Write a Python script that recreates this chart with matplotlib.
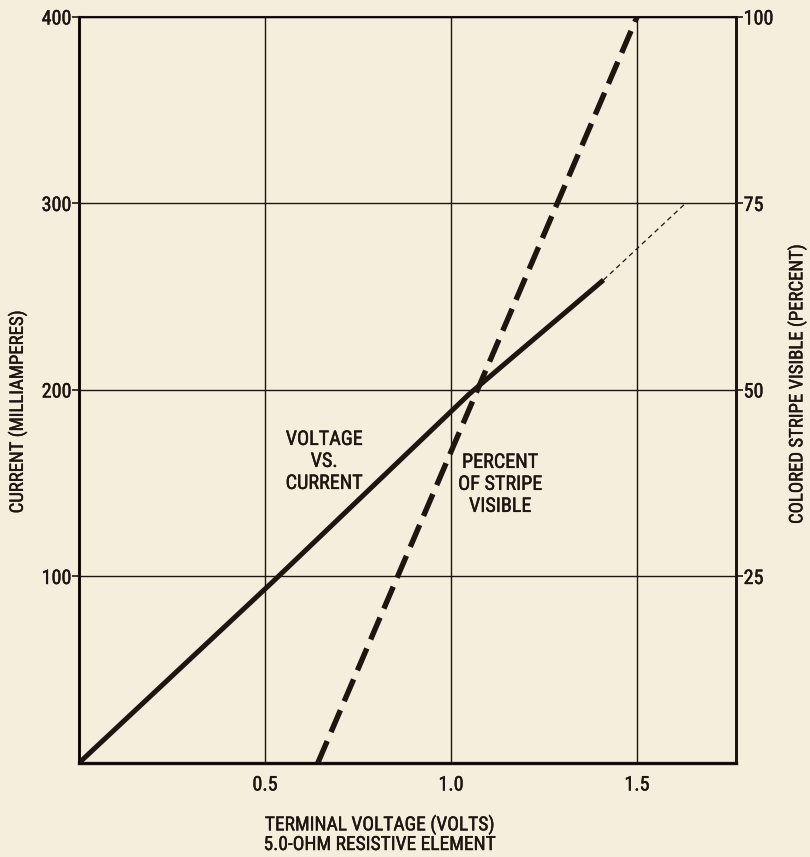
import os
import matplotlib.pyplot as plt
from matplotlib import font_manager as fm
from matplotlib import patheffects as pe

# voltage vs current for the 5.0 ohm element
volts = [0.0, 0.52, 1.05, 1.41]
milliamps = [0, 97, 198, 259]
# thin extrapolated part of the current curve
ext_volts = [1.41, 1.63]
ext_milliamps = [259, 300]

# percent of the coloured stripe that shows
stripe_volts = [0.642, 1.5]
stripe_percent = [0, 100]

x_ticks = [0.5, 1.0, 1.5]
x_labels = ['0.5', '1.0', '1.5']
left_ticks = [100, 200, 300, 400]
right_ticks = [25, 50, 75, 100]

ink = '#1e1510'
paper = '#f5eedd'
# slightly heavier print look for the lettering
heavy = [pe.withStroke(linewidth=0.3, foreground=ink)]


def narrow_font():
    # pick a condensed sans if one is around, else plain DejaVu
    prefs = ['LiberationSansNarrow-Regular', 'RobotoCondensed-Regular', 'Roboto_Condensed-Regular',
             'DejaVuSansCondensed.ttf', 'NotoSans-Condensed.ttf', 'NotoSans-CondensedRegular',
             'OpenSans-CondensedRegular', 'OpenSans_Condensed-Regular']
    paths = [f.fname for f in fm.fontManager.ttflist]
    for p in prefs:
        for path in paths:
            if p in os.path.basename(path):
                return path
    for f in fm.fontManager.ttflist:
        if f.stretch == 'condensed' and f.style == 'normal' and f.weight in (400, 'normal', 'regular'):
            return f.fname
    return None


font_path = narrow_font()


def fp(size):
    if font_path:
        return fm.FontProperties(fname=font_path, size=size)
    return fm.FontProperties(family='DejaVu Sans', size=size)


fig = plt.figure(figsize=(8.1, 8.57), dpi=100)
fig.patch.set_facecolor(paper)
ax = fig.add_axes([0.0975, 0.1097, 0.8111, 0.8705])
ax.set_facecolor(paper)
ax.set_xlim(0, 1.766)
ax.set_ylim(0, 400)

ax.set_xticks(x_ticks)
ax.set_xticklabels(x_labels)
ax.set_yticks(left_ticks)
ax.tick_params(axis='x', length=0, pad=9, colors=ink)
ax.tick_params(axis='y', direction='out', length=5, width=1.2, pad=0.5, colors=ink)
ax.grid(True, color=ink, linewidth=1.0)
ax.set_axisbelow(True)
for side, lw in [('left', 2.2), ('bottom', 2.4), ('top', 1.5), ('right', 2.0)]:
    ax.spines[side].set_linewidth(lw)
    ax.spines[side].set_color(ink)

ax.plot(volts, milliamps, color=ink, linewidth=3.6, solid_capstyle='butt', zorder=3)
ax.plot(ext_volts, ext_milliamps, color=ink, linewidth=0.9, dashes=(4, 3), zorder=3)

ax2 = ax.twinx()
ax2.set_ylim(0, 100)
ax2.set_yticks(right_ticks)
ax2.tick_params(axis='y', direction='out', length=5, width=1.2, pad=0.5, colors=ink)
ax2.spines['right'].set_linewidth(2.0)
ax2.spines['right'].set_color(ink)
ax2.plot(stripe_volts, stripe_percent, color=ink, linewidth=3.9, dashes=(4.4, 1.8),
         dash_capstyle='butt', zorder=3)

for lbl in ax.get_xticklabels() + ax.get_yticklabels() + ax2.get_yticklabels():
    lbl.set_fontproperties(fp(14.5))
    lbl.set_path_effects(heavy)

ax.text(0.659, 161.7, 'VOLTAGE\nVS.\nCURRENT', ha='center', va='center', ma='center',
        fontproperties=fp(14.5), color=ink, linespacing=1.2, path_effects=heavy)
ax.text(1.132, 149.4, 'PERCENT\nOF STRIPE\nVISIBLE', ha='center', va='center', ma='center',
        fontproperties=fp(14.5), color=ink, linespacing=1.2, path_effects=heavy)

fig.text(0.0216, 0.519, 'CURRENT (MILLIAMPERES)', rotation=90, ha='center', va='center',
         fontproperties=fp(13.5), color=ink, path_effects=heavy)
fig.text(0.984, 0.551, 'COLORED STRIPE VISIBLE (PERCENT)', rotation=90, ha='center',
         va='center', fontproperties=fp(13.5), color=ink, path_effects=heavy)
fig.text(0.469, 0.0373, 'TERMINAL VOLTAGE (VOLTS)', ha='center', va='center',
         fontproperties=fp(14), color=ink, path_effects=heavy)
fig.text(0.469, 0.0140, '5.0-OHM RESISTIVE ELEMENT', ha='center', va='center',
         fontproperties=fp(14), color=ink, path_effects=heavy)

fig.savefig('out.png', dpi=100, facecolor=paper)
